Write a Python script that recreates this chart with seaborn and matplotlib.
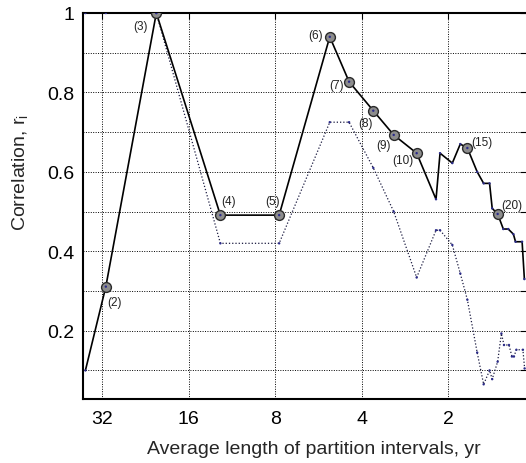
import numpy as np
import pandas as pd
import matplotlib
matplotlib.use("Agg")
import matplotlib.pyplot as plt
import seaborn as sns
from matplotlib.ticker import NullLocator

# ---- data ----
solid_len = [36.5, 31.0, 20.7, 12.4, 7.75, 5.17, 4.43, 3.65, 3.10, 2.58, 2.21, 2.14, 1.94,
             1.82, 1.72, 1.59, 1.51, 1.44, 1.41, 1.35, 1.29, 1.24, 1.19, 1.17, 1.11, 1.09]
solid_r = [0.10, 0.311, 1.0, 0.491, 0.491, 0.940, 0.827, 0.754, 0.693, 0.647, 0.531, 0.647, 0.622,
           0.670, 0.660, 0.600, 0.571, 0.571, 0.508, 0.494, 0.456, 0.456, 0.443, 0.424, 0.424, 0.33]
dotted_len = [36.5, 31.0, 20.7, 12.4, 7.75, 5.17, 4.43, 3.65, 3.10, 2.58, 2.21, 2.14, 1.94,
              1.82, 1.72, 1.59, 1.51, 1.44, 1.41, 1.35, 1.31, 1.283, 1.233, 1.204, 1.185,
              1.162, 1.103, 1.088]
dotted_r = [1.0, 1.0, 1.0, 0.42, 0.42, 0.725, 0.725, 0.61, 0.50, 0.334, 0.453, 0.453, 0.416,
            0.344, 0.278, 0.145, 0.065, 0.10, 0.078, 0.122, 0.193, 0.164, 0.164, 0.135, 0.135,
            0.152, 0.152, 0.105]
labeled_idx = [1, 2, 3, 4, 5, 6, 7, 8, 9, 14, 19]
label_text = ["(2)", "(3)", "(4)", "(5)", "(6)", "(7)", "(8)", "(9)", "(10)", "(15)", "(20)"]
label_off = [(9, -15), (-16, -13), (8, 14), (-7, 14), (-14, 2), (-13, -3), (-8, -12),
             (-10, -10), (-14, -7), (15, 6), (14, 9)]
xtick_vals = [32, 16, 8, 4, 2]
xtick_labels = ["32", "16", "8", "4", "2"]
ytick_vals = [0.1, 0.2, 0.3, 0.4, 0.5, 0.6, 0.7, 0.8, 0.9, 1.0]
ytick_labels = ["", "0.2", "", "0.4", "", "0.6", "", "0.8", "", "1"]

df_solid = pd.DataFrame({"len": solid_len, "r": solid_r})
df_dot = pd.DataFrame({"len": dotted_len, "r": dotted_r})
df_lab = df_solid.iloc[labeled_idx].reset_index(drop=True)

sns.set_theme(style="white")
plt.rcParams["font.family"] = ["Liberation Sans", "DejaVu Sans"]
plt.rcParams["mathtext.fontset"] = "custom"
plt.rcParams["mathtext.rm"] = "Liberation Sans"
plt.rcParams["mathtext.it"] = "Liberation Sans"

W, H = 526, 464
fig = plt.figure(figsize=(W / 100, H / 100), dpi=100)
left, bottom, top = 82.7, 400, 14
ax = fig.add_axes([left / W, 1 - bottom / H, 1 - left / W, (bottom - top) / H])

ax.set_xscale("log", base=2)

sns.lineplot(data=df_dot, x="len", y="r", sort=False, estimator=None, ax=ax,
             color="#1a1a40", linewidth=0.9, linestyle=(0, (1, 1.6)))
sns.lineplot(data=df_solid, x="len", y="r", sort=False, estimator=None, ax=ax,
             color="black", linewidth=1.2)
sns.scatterplot(data=df_lab, x="len", y="r", ax=ax, s=50, color="#8c8c8c",
                edgecolor="#2a2a2a", linewidth=1.0, zorder=5)
sns.scatterplot(data=df_solid, x="len", y="r", ax=ax, s=3, color="#2b2b8a",
                edgecolor="none", zorder=6)
sns.scatterplot(data=df_dot, x="len", y="r", ax=ax, s=3, color="#2b2b8a",
                edgecolor="none", zorder=6)

for (i, (xv, yv)), t, (dx, dy) in zip(df_lab.iterrows(), label_text, label_off):
    ax.annotate(t, (xv, yv), xytext=(dx, dy), textcoords="offset pixels",
                ha="center", va="center", fontsize=8.5, color="#222222", zorder=7)

ax.set_xlim(37.3, 1.076)
ax.set_ylim(0.028, 1.0)
ax.set_xticks(xtick_vals)
ax.set_xticklabels(xtick_labels)
ax.xaxis.set_minor_locator(NullLocator())
ax.set_yticks(ytick_vals)
ax.set_yticklabels(ytick_labels)
ax.tick_params(axis="both", direction="in", length=4, width=0.8, top=True, right=True,
               labelsize=14, colors="black")
ax.tick_params(axis="x", pad=8)
ax.tick_params(axis="y", pad=6)
ax.grid(True, color="black", linestyle=(0, (1, 1.5)), linewidth=0.7)

for s in ["left", "bottom", "top"]:
    ax.spines[s].set_visible(True)
    ax.spines[s].set_color("black")
    ax.spines[s].set_linewidth(1.5)
ax.spines["right"].set_visible(False)

ax.set_xlabel("Average length of partition intervals, yr", fontsize=14, va="center")
ax.set_ylabel("Correlation, r$_{\\mathrm{i}}$", fontsize=14, va="center")
ax.xaxis.set_label_coords((313.5 - left) / (W - left), -(450 - bottom) / (bottom - top))
ax.yaxis.set_label_coords((20 - left) / (W - left), (bottom - 172) / (bottom - top))

fig.savefig("out.png", dpi=100)
